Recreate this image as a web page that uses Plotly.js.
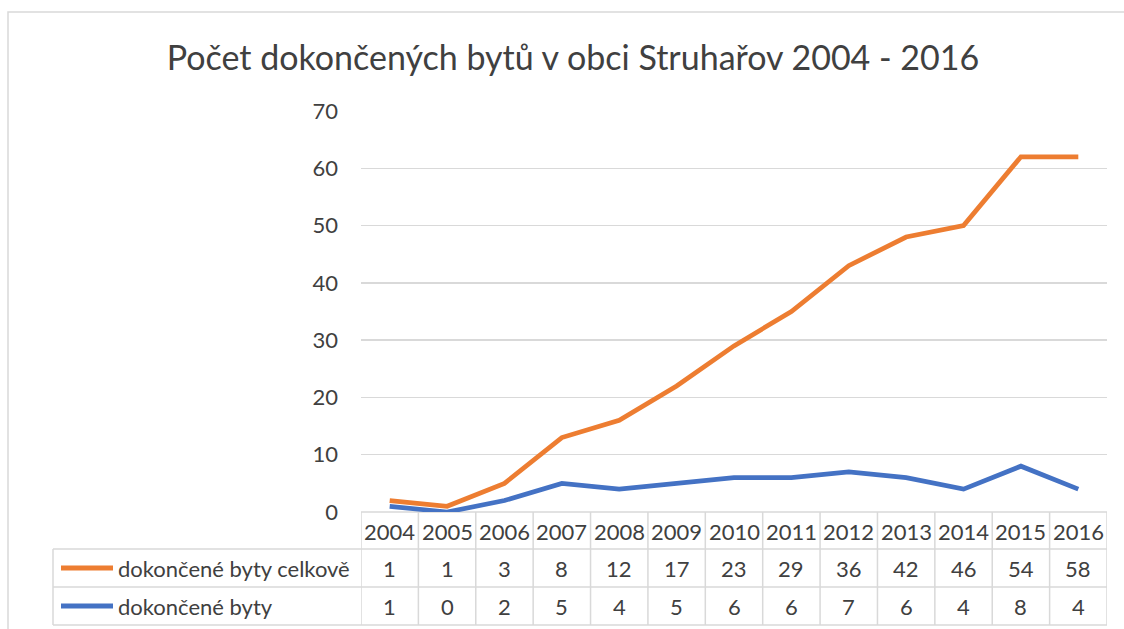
<!DOCTYPE html>
<html>
<head>
<meta charset="utf-8">
<script src="https://cdn.plot.ly/plotly-3.0.1.min.js"></script>
<style>html,body{margin:0;padding:0;background:#fff;}#chart{width:1124px;height:629px;}</style>
</head>
<body>
<div id="chart"></div>
<script>
const years = ['2004','2005','2006','2007','2008','2009','2010','2011','2012','2013','2014','2015','2016'];
const seriesNames = ['dokončené byty celkově', 'dokončené byty'];
const celkove = [1, 1, 3, 8, 12, 17, 23, 29, 36, 42, 46, 54, 58];
const byty = [1, 0, 2, 5, 4, 5, 6, 6, 7, 6, 4, 8, 4];
const yTicks = [0, 10, 20, 30, 40, 50, 60, 70];
const titleText = 'Počet dokončených bytů v obci Struhařov 2004 - 2016';

const W = 1124, H = 629;
const L = 361, R = 1107, T = 111, B = 512;
const FONT = 'Lato, "Open Sans", sans-serif';
const TXT = '#404040';
const GRID = '#D9D9D9';
const ORANGE = '#ED7D31', BLUE = '#4472C4';

const px = v => (v - L) / (R - L);
const py = v => (B - v) / (B - T);
const xs = years.map((_, i) => i);

const traces = [
  {x: xs, y: byty, name: seriesNames[1], type: 'scatter', mode: 'lines', stackgroup: 'one', fill: 'none',
   line: {color: BLUE, width: 4.75}, hoverinfo: 'skip'},
  {x: xs, y: celkove, name: seriesNames[0], type: 'scatter', mode: 'lines', stackgroup: 'one', fill: 'none',
   line: {color: ORANGE, width: 4.75}, hoverinfo: 'skip'}
];

const shapes = [];
const annotations = [];
const lineStyle = {color: GRID, width: 1.5};
// outer chart border
shapes.push({type: 'rect', xref: 'paper', yref: 'paper', x0: px(8), x1: px(1130), y0: py(12), y1: py(640),
  line: {color: GRID, width: 1.5}, layer: 'below'});

// table rows
const rowTop = B, hdrBot = 549, r1Bot = 587, r2Bot = 625, tableLeft = 53;
[hdrBot, r1Bot, r2Bot].forEach(yy => {
  shapes.push({type: 'line', xref: 'paper', yref: 'paper', x0: px(tableLeft), x1: 1, y0: py(yy), y1: py(yy), line: lineStyle});
});
for (let i = 0; i <= years.length; i++) {
  shapes.push({type: 'line', xref: 'x', yref: 'paper', x0: i - 0.5, x1: i - 0.5, y0: py(rowTop), y1: py(r2Bot), line: lineStyle});
}
shapes.push({type: 'line', xref: 'paper', yref: 'paper', x0: px(tableLeft), x1: px(tableLeft), y0: py(hdrBot), y1: py(r2Bot), line: lineStyle});

const hdrY = py((rowTop + hdrBot) / 2 + 1), r1Y = py((hdrBot + r1Bot) / 2), r2Y = py((r1Bot + r2Bot) / 2);
const tf = {family: FONT, size: 22, color: TXT};
years.forEach((yr, i) => {
  annotations.push({xref: 'x', yref: 'paper', x: i, y: hdrY, text: yr, showarrow: false, font: tf, xanchor: 'center', yanchor: 'middle'});
  annotations.push({xref: 'x', yref: 'paper', x: i, y: r1Y, text: String(celkove[i]), showarrow: false, font: tf, xanchor: 'center', yanchor: 'middle'});
  annotations.push({xref: 'x', yref: 'paper', x: i, y: r2Y, text: String(byty[i]), showarrow: false, font: tf, xanchor: 'center', yanchor: 'middle'});
});
[[r1Y, ORANGE, seriesNames[0]], [r2Y, BLUE, seriesNames[1]]].forEach(([yy, col, nm]) => {
  shapes.push({type: 'line', xref: 'paper', yref: 'paper', x0: px(61), x1: px(113), y0: yy, y1: yy, line: {color: col, width: 5}});
  annotations.push({xref: 'paper', yref: 'paper', x: px(116), y: yy, text: nm, showarrow: false, font: tf, xanchor: 'left', yanchor: 'middle'});
});

const layout = {
  width: W, height: H,
  margin: {l: L, r: W - R, t: T, b: H - B, pad: 0},
  paper_bgcolor: '#fff', plot_bgcolor: '#fff',
  showlegend: false,
  title: {text: titleText, font: {family: FONT, size: 34, color: TXT}, xref: 'paper', x: px(573), xanchor: 'center',
          yref: 'container', y: 1 - 58 / H, yanchor: 'middle'},
  xaxis: {range: [-0.5, years.length - 0.5], showgrid: false, zeroline: false, showticklabels: false, ticks: '', showline: false, fixedrange: true},
  yaxis: {range: [0, 70], tickvals: yTicks, ticktext: yTicks.map(String), showgrid: true, gridcolor: GRID, gridwidth: 1.5,
          zeroline: false, showline: false, ticks: '', ticklabelstandoff: 22, tickfont: {family: FONT, size: 22, color: TXT}, fixedrange: true},
  shapes: shapes,
  annotations: annotations
};
layout.shapes.push({type: 'line', xref: 'paper', yref: 'paper', x0: 0, x1: 1, y0: 0, y1: 0, line: lineStyle, layer: 'below'});

Plotly.newPlot('chart', traces, layout, {staticPlot: true, displayModeBar: false});
</script>
</body>
</html>
